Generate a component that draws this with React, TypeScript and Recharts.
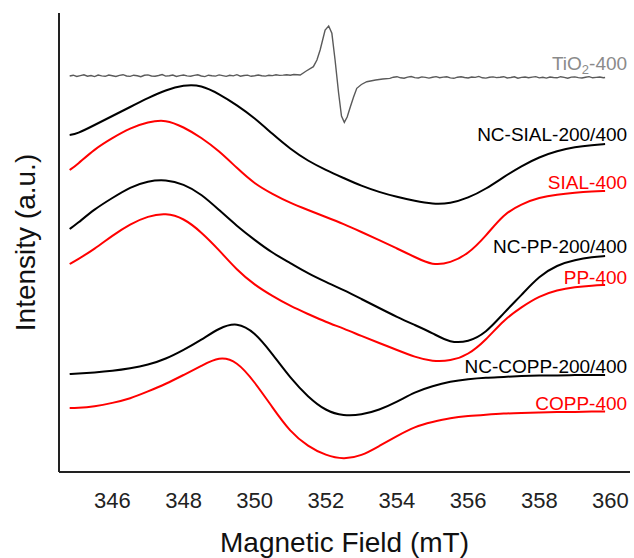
import React from "react";
import { LineChart, Line, XAxis, YAxis, Label, LabelList } from "recharts";

// magnetic field (mT) sampling for the broad spectra
const field = [
  344.8, 345, 345.5, 346, 346.5, 347, 347.5, 348, 348.5, 349, 349.5, 350, 350.5, 351, 351.5, 352,
  352.5, 353, 353.5, 354, 354.5, 355, 355.5, 356, 356.5, 357, 357.5, 358, 358.5, 359, 359.5, 359.85,
];

// stacked intensities (a.u., offset per sample)
const ncSial = [
  337, 338, 347, 356, 365, 374, 382, 387, 387, 378, 367, 354, 338, 323, 311, 302,
  294, 286, 280, 275, 271, 268, 268.5, 274, 283, 295, 306, 315, 321, 325, 327, 328,
];
const sial = [
  302, 307, 323, 334, 344, 350, 352.5, 345, 334.5, 321, 304, 288, 278, 269, 262, 255,
  248, 240, 232, 223.5, 215, 206.5, 209, 218, 236, 258, 268, 274.5, 277.5, 279.3, 280.5, 281,
];
const ncPp = [
  243, 248, 263, 274, 285, 291, 292.5, 288, 278, 262, 246, 232, 219, 209, 198.5, 190,
  182, 173, 164, 155, 147, 139, 129, 130, 139, 159, 177, 196, 207, 212, 215, 216,
];
const pp = [
  208, 212, 223, 236.5, 248, 256, 259, 254, 240, 222, 202, 187, 176, 166, 158, 150,
  143.5, 136, 129, 122, 115, 110.5, 111, 117, 132, 152, 165, 176, 182, 185, 186.5, 187,
];
const ncCopp = [
  98, 98.5, 99.5, 101, 103.5, 107, 113, 122, 132, 144, 150, 140, 118, 94, 75, 61,
  56, 57, 62, 70, 80, 86, 90.5, 93, 94.5, 95, 96, 96.5, 96.5, 97, 97, 97,
];
const copp = [
  64, 64, 65.5, 69, 73.3, 80.5, 88, 97, 106, 115.5, 111, 90, 64.5, 40, 25.5, 16.5,
  12.5, 16, 26, 36, 45.5, 50, 54, 56, 57.3, 58.5, 59, 59.5, 60, 60, 60.5, 60.5,
];

// TiO2 trace: noisy baseline before the signal, the sharp signal, baseline after
const tioFieldA = [
  344.8, 344.9, 345, 345.1, 345.2, 345.3, 345.4, 345.5, 345.6, 345.7,
  345.8, 345.9, 346, 346.1, 346.2, 346.3, 346.4, 346.5, 346.6, 346.7,
  346.8, 346.9, 347, 347.1, 347.2, 347.3, 347.4, 347.5, 347.6, 347.7,
  347.8, 347.9, 348, 348.1, 348.2, 348.3, 348.4, 348.5, 348.6, 348.7,
  348.8, 348.9, 349, 349.1, 349.2, 349.3, 349.4, 349.5, 349.6, 349.7,
  349.8, 349.9, 350, 350.1, 350.2, 350.3, 350.4, 350.5, 350.6, 350.7,
  350.8, 350.9, 351, 351.1, 351.2,
];
const tioA = [
  396, 396.8, 395.6, 396.4, 397.2, 395.8, 396.5, 395.4, 396.9, 396.1,
  395.7, 397, 396.3, 395.5, 396.6, 397.3, 396, 395.6, 396.8, 396.2,
  395.3, 396.7, 397.1, 396, 395.8, 396.5, 397.4, 395.9, 396.2, 396.9,
  395.5, 396.4, 397, 396.1, 395.7, 396.6, 397.2, 396, 395.4, 396.8,
  396.3, 395.9, 397.1, 396.4, 395.6, 396.7, 396.1, 397.3, 395.8, 396.5,
  396.9, 395.7, 396.3, 397, 396.2, 395.9, 396.8, 396.4, 397.2, 396.6,
  396.9, 397.3, 396.8, 397.5, 397.2,
];
const tioFieldB = [
  351.28, 351.45, 351.65, 351.75, 351.84, 351.91, 351.98, 352.08, 352.17, 352.26, 352.36,
  352.44, 352.52, 352.6, 352.69, 352.78, 352.87, 353, 353.15, 353.4, 353.6,
];
const tioB = [
  397, 401, 405.3, 412, 422, 432, 442, 446, 438.7, 412, 378.7,
  356, 349.7, 355, 365.3, 375, 383.7, 387.5, 390.3, 392, 393,
];
const tioFieldC = [
  353.8, 353.9, 354, 354.1, 354.2, 354.3, 354.4, 354.5, 354.6, 354.7,
  354.8, 354.9, 355, 355.1, 355.2, 355.3, 355.4, 355.5, 355.6, 355.7,
  355.8, 355.9, 356, 356.1, 356.2, 356.3, 356.4, 356.5, 356.6, 356.7,
  356.8, 356.9, 357, 357.1, 357.2, 357.3, 357.4, 357.5, 357.6, 357.7,
  357.8, 357.9, 358, 358.1, 358.2, 358.3, 358.4, 358.5, 358.6, 358.7,
  358.8, 358.9, 359, 359.1, 359.2, 359.3, 359.4, 359.5, 359.6, 359.7,
  359.8, 359.85,
];
const tioC = [
  393.6, 394.8, 395.3, 394.2, 393.8, 394.9, 395.5, 394.4, 394, 395.1,
  394.6, 393.9, 394.7, 395.4, 394.3, 394.9, 395.2, 394.1, 393.7, 394.8,
  395.3, 394.5, 394, 395, 394.6, 395.6, 394.2, 393.9, 394.8, 395.1,
  394.4, 394.7, 395.3, 394, 394.5, 395.2, 393.8, 394.6, 395, 394.3,
  394.9, 395.4, 394.1, 394.7, 393.9, 395, 394.5, 394.2, 395.3, 394.6,
  393.8, 394.9, 395.1, 394.4, 394, 394.8, 395.4, 394.2, 394.6, 395,
  394.3, 394.5,
];

const xTicks = [346, 348, 350, 352, 354, 356, 358, 360];

const FONT = "'Liberation Sans', Arial, sans-serif";

const toRows = (xs: number[], ys: number[], tag: string) =>
  xs.map((x, i) => ({ field: x, y: ys[i], tag: i === xs.length - 1 ? tag : undefined }));

const endLabel = (color: string, dy: number, sub?: boolean) => (props: any) => {
  if (props.value == null) return null;
  const x = (props.x ?? props.viewBox?.x) + 22;
  const y = (props.y ?? props.viewBox?.y) + dy;
  if (sub) {
    return (
      <text x={x} y={y} textAnchor="end" fill={color} fontSize={19} fontFamily={FONT}>
        <tspan>TiO</tspan>
        <tspan fontSize={13} dy={4}>2</tspan>
        <tspan dy={-4}>-400</tspan>
      </text>
    );
  }
  return (
    <text x={x} y={y} textAnchor="end" fill={color} fontSize={19} fontFamily={FONT}>
      {props.value}
    </text>
  );
};

const series = [
  {
    name: "TiO2-400",
    xs: [...tioFieldA, ...tioFieldB, ...tioFieldC],
    ys: [...tioA, ...tioB, ...tioC],
    color: "#5a5a5a", text: "#8a8a8a", dy: -8, w: 1.4, sub: true, curve: "linear",
  },
  { name: "NC-SIAL-200/400", xs: field, ys: ncSial, color: "#000000", text: "#000000", dy: -3 },
  { name: "SIAL-400", xs: field, ys: sial, color: "#ff0000", text: "#ff0000", dy: -2 },
  { name: "NC-PP-200/400", xs: field, ys: ncPp, color: "#000000", text: "#000000", dy: -3 },
  { name: "PP-400", xs: field, ys: pp, color: "#ff0000", text: "#ff0000", dy: -1 },
  { name: "NC-COPP-200/400", xs: field, ys: ncCopp, color: "#000000", text: "#000000", dy: -2.5 },
  { name: "COPP-400", xs: field, ys: copp, color: "#ff0000", text: "#ff0000", dy: -1.2 },
];

export default function App() {
  return (
    <div style={{ position: "absolute", left: 0, top: 0, background: "#fff" }}>
      <LineChart width={634} height={558} margin={{ top: 13, right: 4, bottom: 0, left: 0 }}>
        <XAxis
          type="number"
          dataKey="field"
          domain={[344.5, 360.55]}
          ticks={xTicks}
          allowDataOverflow
          height={86}
          axisLine={{ stroke: "#222", strokeWidth: 2 }}
          tickLine={false}
          tickMargin={14}
          tick={{ fontSize: 22, fill: "#222", fontFamily: FONT }}
        >
          <Label
            content={(p: any) => (
              <text
                x={p.viewBox.x + p.viewBox.width / 2}
                y={p.viewBox.y + p.viewBox.height - 6}
                textAnchor="middle"
                fontSize={28}
                fill="#111"
                fontFamily={FONT}
              >
                Magnetic Field (mT)
              </text>
            )}
          />
        </XAxis>
        <YAxis
          type="number"
          domain={[0, 459]}
          width={59}
          tick={false}
          tickLine={false}
          axisLine={{ stroke: "#222", strokeWidth: 2 }}
        >
          <Label
            content={(p: any) => {
              const cx = 35;
              const cy = p.viewBox.y + p.viewBox.height / 2;
              return (
                <text
                  x={cx}
                  y={cy}
                  transform={`rotate(-90 ${cx} ${cy})`}
                  textAnchor="middle"
                  fontSize={28}
                  fill="#111"
                  fontFamily={FONT}
                >
                  Intensity (a.u.)
                </text>
              );
            }}
          />
        </YAxis>
        {series.map((s) => (
          <Line
            key={s.name}
            data={toRows(s.xs, s.ys, s.name)}
            dataKey="y"
            type={(s.curve ?? "basis") as any}
            stroke={s.color}
            strokeWidth={s.w ?? 2}
            dot={false}
            activeDot={false}
            isAnimationActive={false}
          >
            <LabelList dataKey="tag" content={endLabel(s.text, s.dy, s.sub)} />
          </Line>
        ))}
      </LineChart>
    </div>
  );
}
